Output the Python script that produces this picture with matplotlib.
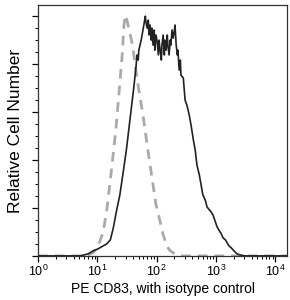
"""Flow cytometry histogram: PE CD83 staining overlaid with isotype control."""

import matplotlib
matplotlib.use("Agg")
import matplotlib.pyplot as plt
import numpy as np
from matplotlib.ticker import LogLocator, MultipleLocator, NullFormatter

plt.rcParams["font.family"] = ["Liberation Sans", "DejaVu Sans"]
plt.rcParams["mathtext.fontset"] = "custom"
plt.rcParams["mathtext.rm"] = "Liberation Sans"

# ---- data (log10 fluorescence, relative count)
cd83_log = [0.00, 0.37, 0.71, 0.84, 0.93, 1.01, 1.10, 1.16, 1.22, 1.27, 1.32,
            1.38, 1.43, 1.49, 1.52, 1.55, 1.59, 1.62, 1.65, 1.67, 1.69, 1.70,
            1.74, 1.77, 1.81, 1.82, 1.84, 1.86, 1.87, 1.89, 1.91, 1.92, 1.94,
            1.96, 1.97, 1.99, 2.01, 2.03, 2.04, 2.06, 2.08, 2.09, 2.11, 2.13,
            2.14, 2.16, 2.18, 2.19, 2.21, 2.23, 2.24, 2.26, 2.28, 2.30, 2.31,
            2.33, 2.35, 2.36, 2.38, 2.40, 2.41, 2.45, 2.48, 2.51, 2.55, 2.58,
            2.62, 2.65, 2.68, 2.72, 2.75, 2.78, 2.82, 2.85, 2.89, 2.92, 2.95,
            2.99, 3.02, 3.05, 3.09, 3.12, 3.16, 3.19, 3.22, 3.26, 3.29, 3.32,
            3.36, 3.41, 3.49, 3.75, 4.20]
cd83_count = [0.0, 0.0, 0.0, 0.8, 2.1, 2.9, 4.2, 5.0, 6.7, 11.7, 18.3,
              25.4, 33.8, 44.2, 50.4, 56.7, 65.0, 71.3, 78.3, 83.8, 81.7, 85.8,
              90.0, 94.2, 100.0, 97.5, 95.0, 98.3, 92.1, 96.3, 90.0, 95.0, 87.9,
              94.2, 85.8, 92.1, 89.2, 83.8, 90.0, 85.8, 81.7, 87.9, 92.1, 83.8,
              90.0, 85.8, 92.1, 87.9, 83.8, 90.0, 87.9, 94.2, 90.8, 94.2, 96.3,
              87.9, 83.8, 85.8, 77.5, 81.7, 75.4, 74.2, 65.0, 62.9, 58.8, 54.6,
              48.3, 44.2, 37.9, 33.8, 29.6, 25.4, 23.3, 20.4, 19.2, 18.3, 17.1,
              14.2, 12.1, 10.8, 9.2, 7.5, 6.7, 5.4, 4.2, 3.3, 2.5, 1.7,
              0.8, 0.4, 0.0, 0.0, 0.0]

iso_log = [0.00, 0.71, 0.84, 0.93, 1.01, 1.10, 1.16, 1.22, 1.27, 1.32, 1.37,
           1.42, 1.45, 1.47, 1.50, 1.55, 1.60, 1.65, 1.70, 1.77, 1.84, 1.89,
           1.94, 1.99, 2.06, 2.11, 2.18, 2.23, 2.31, 2.40, 4.20]
iso_count = [0.0, 0.0, 0.4, 1.3, 3.8, 10.0, 19.2, 31.7, 42.9, 54.6, 69.2,
             83.8, 96.3, 100.4, 98.3, 92.9, 87.1, 77.5, 69.2, 58.8, 46.3, 37.9,
             29.6, 21.3, 14.2, 8.8, 3.8, 2.1, 0.8, 0.0, 0.0]

XLABEL = "PE CD83, with isotype control"
YLABEL = "Relative Cell Number"

fig = plt.figure(figsize=(2.9, 3.0), dpi=100)
ax = fig.add_axes([0.131, 0.147, 0.859, 0.836])

ax.plot(10 ** np.array(iso_log), iso_count, color="#aaaaaa", lw=2.0,
        ls=(0, (3.5, 2.5)), zorder=2)
ax.plot(10 ** np.array(cd83_log), cd83_count, color="#222222", lw=1.2, zorder=3)

ax.set_xscale("log")
ax.set_xlim(1, 10 ** 4.2)
ax.set_ylim(0, 104.6)
ax.xaxis.set_major_locator(LogLocator(base=10, numticks=10))
ax.xaxis.set_minor_locator(LogLocator(base=10, subs=np.arange(2, 10), numticks=20))
ax.xaxis.set_minor_formatter(NullFormatter())
ax.yaxis.set_major_locator(MultipleLocator(20))
ax.yaxis.set_minor_locator(MultipleLocator(5))
ax.set_yticklabels([])

ax.tick_params(which="major", direction="out", length=4, width=0.9, labelsize=9, pad=2)
ax.tick_params(which="minor", direction="out", length=2.2, width=0.7)
for s in ax.spines.values():
    s.set_linewidth(0.9)
    s.set_color("#333333")

ax.set_xlabel(XLABEL, fontsize=10, labelpad=2)
ax.set_ylabel(YLABEL, fontsize=12.5, labelpad=5)

fig.savefig("out.png", dpi=100)
